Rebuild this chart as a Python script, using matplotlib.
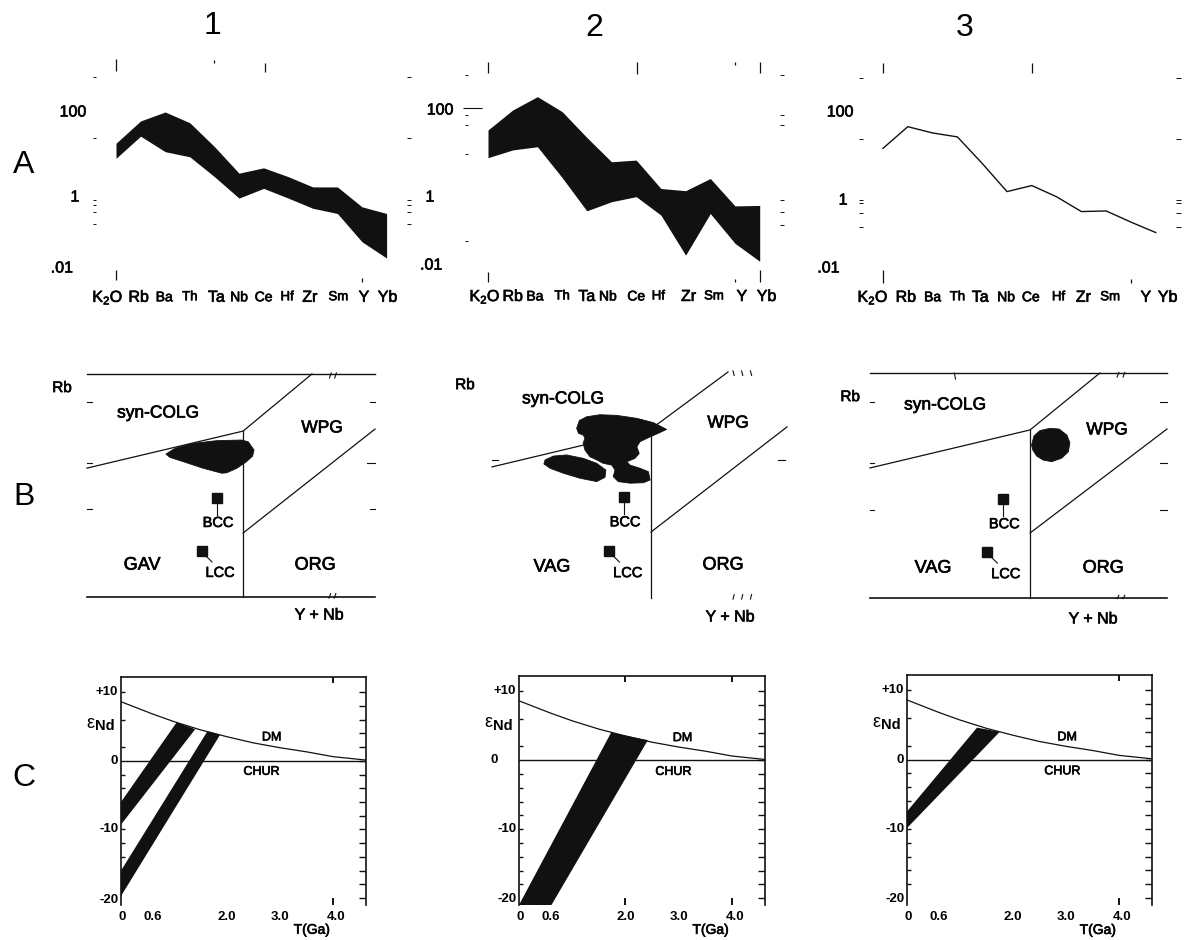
import numpy as np
import matplotlib
matplotlib.use('Agg')
from matplotlib import pyplot as plt
from matplotlib import transforms as mtransforms
from matplotlib import patheffects as pe
from matplotlib.patches import Polygon

W, H = 1187, 940
INK = '#111111'
HEAVY = [pe.withStroke(linewidth=0.5, foreground=INK)]

# ---------------- row A : spidergrams (normalised values) ----------------
elements = ['K$_2$O', 'Rb', 'Ba', 'Th', 'Ta', 'Nb', 'Ce', 'Hf', 'Zr', 'Sm', 'Y', 'Yb']
a1_upper = [15.8, 59, 100, 53, 13, 2.7, 3.7, 2.2, 1.2, 1.2, 0.37, 0.25]
a1_lower = [6.5, 24, 9.6, 7.1, 2.2, 0.62, 1.1, 0.62, 0.34, 0.25, 0.047, 0.018]
a2_upper = [31, 100, 219, 91, 20, 4.8, 5.3, 1.0, 0.88, 1.8, 0.36, 0.37]
a2_lower = [6.1, 9.6, 11.6, 1.9, 0.27, 0.46, 0.62, 0.21, 0.020, 0.23, 0.040, 0.014]
a3_line = [11.7, 42, 29, 23, 4.8, 0.91, 1.3, 0.67, 0.28, 0.29, 0.15, 0.081]

# ---------------- row B : Rb vs Y+Nb sketches (frame units 0-100) ----------------
b1_bounds = [[(0, 57.8), (54.2, 74.4), (78.1, 100)], [(54.2, 74.4), (54.2, 0)],
             [(54.2, 28.7), (100, 75.3)]]
b2_bounds = [[(0, 58.0), (53.9, 74.8), (80.0, 100)], [(53.9, 74.8), (53.9, 0)],
             [(53.9, 29.2), (100, 75.7)]]
b3_bounds = [[(0, 57.8), (53.9, 74.7), (77.4, 100)], [(53.9, 74.7), (53.9, 0)],
             [(53.9, 28.9), (100, 75.1)]]

b1_blobs = [[(27.4, 64.1), (30.6, 66.7), (36.9, 68.9), (45.0, 70.1), (53.7, 70.4), (56.0, 69.6),
             (58.0, 65.9), (57.5, 63.2), (55.4, 60.7), (52.0, 57.7), (48.5, 55.7), (46.8, 55.5),
             (40.4, 57.7), (33.4, 60.7), (28.8, 62.6)]]
b2_blobs = [[(28.7, 75.1), (29.6, 78.5), (32.1, 80.2), (36.6, 81.1), (42.3, 80.8), (49.1, 79.5),
             (54.7, 77.6), (59.2, 74.6), (56.4, 72.9), (53.3, 71.1), (50.2, 69.2), (49.1, 66.9),
             (49.9, 64.0), (48.5, 61.8), (45.7, 60.3), (46.8, 58.8), (50.2, 57.4), (53.0, 55.9),
             (53.6, 52.2), (51.3, 51.0), (46.8, 50.8), (42.8, 51.5), (41.1, 53.7), (41.7, 56.6),
             (40.6, 58.8), (37.7, 59.6), (35.5, 61.1), (33.2, 62.5), (31.5, 65.5), (30.9, 68.5),
             (31.5, 70.7), (30.9, 72.1), (29.3, 72.9)],
            [(18.0, 61.1), (20.8, 62.8), (25.3, 63.3), (30.9, 61.8), (35.5, 59.6), (38.6, 56.6),
             (38.3, 53.4), (35.5, 51.5), (29.8, 53.0), (24.2, 55.2), (19.7, 57.4), (17.6, 59.3)]]
b3_blobs = [[(54.4, 68.0), (55.2, 72.0), (57.2, 74.4), (60.6, 75.4), (63.7, 75.1), (66.3, 72.4),
             (67.3, 69.0), (66.8, 65.0), (64.5, 62.1), (61.2, 60.6), (58.3, 61.3), (56.1, 63.1),
             (54.8, 65.8)]]

b1_bcc, b1_lcc = (45.1, 44.4), (39.9, 20.6)
b2_bcc, b2_lcc = (44.7, 44.7), (39.7, 20.8)
b3_bcc, b3_lcc = (44.8, 44.0), (39.4, 20.4)

# ---------------- row C : eps Nd vs T(Ga) ----------------
dm_t = [0, 0.6, 1.0, 1.5, 2.0, 2.5, 3.0, 3.5, 4.0, 4.62]
dm_eps = [8.6, 6.8, 5.7, 4.5, 3.5, 2.6, 1.9, 1.3, 0.6, 0.1]
c1_bands = [[(0, -6.0), (1.05, 5.6), (1.40, 4.6), (0, -9.3)],
            [(0, -16.0), (1.63, 4.3), (1.87, 3.8), (0, -19.7)]]
c2_bands = [[(0, -21.0), (1.73, 4.0), (2.42, 2.9), (0.61, -21.0)]]
c3_bands = [[(0, -7.5), (1.32, 4.6), (1.75, 4.0), (0, -9.9)]]
t_labels = ['0', '0.6', '2.0', '3.0', '4.0']
t_pos = [0.03, 0.6, 2.0, 3.0, 4.05]

plt.rcParams['font.family'] = ['Liberation Sans', 'DejaVu Sans']
plt.rcParams['mathtext.fontset'] = 'custom'
plt.rcParams['mathtext.rm'] = 'Liberation Sans'
plt.rcParams['mathtext.it'] = 'Liberation Sans:italic'
plt.rcParams['mathtext.bf'] = 'Liberation Sans:bold'


def px_axes(fig, x0, y0, x1, y1):
    return fig.add_axes([x0 / W, 1 - y1 / H, (x1 - x0) / W, (y1 - y0) / H])


def spider(fig, kx, sp, y100, ppd, upper, lower, lab_dx, ylabs, lmarks, rmarks, tmarks, bmarks):
    ax = px_axes(fig, kx - 3 * sp, y100 - 1.5 * ppd, kx + 12.2 * sp, y100 + 4.6 * ppd)
    ax.set_xlim(-3, 12.2)
    ax.set_yscale('log')
    ax.set_ylim(10 ** -2.6, 10 ** 3.5)
    ax.axis('off')
    x = np.arange(len(elements))
    if lower is None:
        ax.plot(x, upper, color=INK, lw=1.0)
    else:
        ax.fill_between(x, lower, upper, color=INK, lw=0)
    sizes = [11.5, 11.5, 10, 9.5, 11.5, 10, 10, 9.5, 11.5, 9.5, 11.5, 11.5]
    for i, (name, s, dx) in enumerate(zip(elements, sizes, lab_dx)):
        ax.text(i + dx, 10 ** -2.75, name, ha='center', va='center', fontsize=s,
                clip_on=False, path_effects=HEAVY)
    for txt, xi, lv in ylabs:
        ax.text(xi, 10 ** lv, txt, ha='center', va='center', fontsize=11.5, path_effects=HEAVY)
    for lv in lmarks:
        ax.hlines(10 ** lv, -0.95, -0.8, color=INK, lw=0.7)
    for lv in rmarks:
        ax.hlines(10 ** lv, 11.82, 12.0, color=INK, lw=0.7)
    for xi, l0, l1 in tmarks + bmarks:
        ax.vlines(xi, 10 ** l0, 10 ** l1, color=INK, lw=0.9)
    return ax


def tect(fig, rect, bounds, frame, blobs, bcc, lcc, fields, marks):
    ax = px_axes(fig, *rect)
    ax.set_xlim(0, 100)
    ax.set_ylim(0, 100)
    ax.axis('off')
    if frame:
        ax.plot([0, 100], [100, 100], color=INK, lw=1.0, clip_on=False)
        ax.plot([0, 100], [0, 0], color=INK, lw=1.2, clip_on=False)
    for seg in bounds:
        xs, ys = zip(*seg)
        ax.plot(xs, ys, color=INK, lw=0.9, clip_on=False)
    for b in blobs:
        ax.add_patch(Polygon(b, closed=True, color=INK, lw=0.6, zorder=3))
    ax.plot(*bcc, 's', color=INK, ms=6.5, zorder=4)
    ax.plot(*lcc, 's', color=INK, ms=6.5, zorder=4)
    ax.plot([bcc[0], bcc[0]], [bcc[1] - 2.5, bcc[1] - 7.6], color=INK, lw=0.8)
    ax.plot([lcc[0] + 1.1, lcc[0] + 3.5], [lcc[1] - 1.8, lcc[1] - 4.9], color=INK, lw=0.8)
    ax.text(bcc[0] + 0.4, bcc[1] - 11.2, 'BCC', ha='center', va='center', fontsize=10.5,
            path_effects=HEAVY)
    ax.text(lcc[0] + 6.3, lcc[1] - 9.8, 'LCC', ha='center', va='center', fontsize=10.5,
            path_effects=HEAVY)
    for txt, u, v, s in fields:
        ax.text(u, v, txt, ha='center', va='center', fontsize=s, clip_on=False,
                path_effects=HEAVY)
    for seg in marks:
        xs, ys = zip(*seg)
        ax.plot(xs, ys, color=INK, lw=0.8, clip_on=False)
    return ax


def nd_panel(fig, rect, bands, tticks, zero_dx, dm_xy, chur_xy):
    ax = px_axes(fig, *rect)
    ax.set_xlim(0, 4.62)
    ax.set_ylim(-21, 12.2)
    ax.spines['bottom'].set_visible(False)
    for s in ['left', 'top', 'right']:
        ax.spines[s].set_linewidth(1.2)
        ax.spines[s].set_color(INK)
    ax.set_xticks([])
    ax.set_yticks([])
    ax.plot(dm_t, dm_eps, color=INK, lw=0.9)
    ax.axhline(0, color=INK, lw=1.0)
    for b in bands:
        ax.add_patch(Polygon(b, closed=True, color=INK, lw=0, zorder=3))
    ytr = ax.get_yaxis_transform()
    xtr = ax.get_xaxis_transform()
    ax.hlines(np.arange(-20, 11, 2), 0.972, 1.0, transform=ytr, color=INK, lw=1.0)
    ax.hlines([10, 6, 2, -2, -4, -6, -8, -10, -12, -14, -16, -18], 0.0, 0.017,
              transform=ytr, color=INK, lw=1.0)
    ax.vlines(tticks, 0.972, 1.0, transform=xtr, color=INK, lw=1.4)
    ax.vlines(tticks, 0.0, 0.03, transform=xtr, color=INK, lw=1.4)
    kw = dict(ha='right', va='center', fontsize=9.5, fontweight='bold', clip_on=False)
    ax.text(-0.05, 10, '+10', **kw)
    ax.text(-0.05 - zero_dx, 0, '0', **kw)
    ax.text(-0.05, -10, '-10', **kw)
    ax.text(-0.05, -20.2, '-20', **kw)
    ax.text(-0.12, 5.0, 'Nd', ha='right', va='center', fontsize=10.5, fontweight='bold')
    eps_tr = mtransforms.offset_copy(ax.transData, fig=fig, x=-14.5, y=2, units='points')
    ax.text(-0.12, 5.0, 'ε', ha='right', va='center', fontsize=13, transform=eps_tr)
    for lab, t in zip(t_labels, t_pos):
        ax.text(t, -22.7, lab, ha='center', va='center', fontsize=9.5, fontweight='bold', clip_on=False)
    ax.text(3.6, -24.6, 'T(Ga)', ha='center', va='center', fontsize=10, clip_on=False,
            path_effects=HEAVY)
    ax.text(dm_xy[0], dm_xy[1], 'DM', ha='center', va='center', fontsize=9, path_effects=HEAVY)
    ax.text(chur_xy[0], chur_xy[1], 'CHUR', ha='center', va='center', fontsize=9,
            path_effects=HEAVY)
    return ax


def main():
    fig = plt.figure(figsize=(W / 100, H / 100), dpi=100)

    for txt, x, y in [('1', 213, 26), ('2', 594, 28), ('3', 965, 28)]:
        fig.text(x / W, 1 - y / H, txt, ha='center', va='center', fontsize=23)
    for txt, y in [('A', 165), ('B', 497), ('C', 778)]:
        fig.text(24 / W, 1 - y / H, txt, ha='center', va='center', fontsize=23)

    # row A
    spider(fig, 116, 24.6, 112, 39, a1_upper, a1_lower,
           [-0.33, -0.08, -0.04, 0, 0.08, 0, 0, -0.04, -0.12, 0.04, 0.08, 0.04],
           [('100', -1.75, 2.0), ('1', -1.67, -0.18), ('.01', -2.2, -2.0)],
           [2.90, 1.33, -0.26, -0.38, -0.56, -0.87], [2.90, 1.33, -0.26, -0.38, -0.56, -0.87],
           [(0, 3.05, 3.36), (4, 3.26, 3.33), (6.06, 3.03, 3.26)],
           [(0, -2.31, -2.05), (10, -2.36, -2.26)])
    ax2 = spider(fig, 488, 24.7, 110, 39.25, a2_upper, a2_lower,
                 [-0.12, 0, -0.1, 0, 0, -0.15, 0, -0.1, 0.12, 0.15, 0.28, 0.28],
                 [('100', -1.94, 2.0), ('1', -2.35, -0.22), ('.01', -2.3, -1.95)],
                 [2.89, 1.87, 1.62, 0.88, -1.34], [2.89, 1.87, 1.62, -0.29, -0.60, -0.93],
                 [(0, 2.94, 3.22), (6.03, 2.92, 3.22), (10, 3.15, 3.22), (11, 2.94, 3.22)],
                 [(0, -2.38, -2.13), (10, -2.38, -2.31), (11, -2.38, -2.08)])
    ax2.hlines(10 ** 2.05, -1.0, -0.24, color=INK, lw=0.8)
    spider(fig, 883, 24.8, 112, 39, a3_line, None,
           [-0.4, -0.08, 0, 0, -0.08, -0.04, -0.04, 0.08, 0.08, 0.16, 0.6, 0.48],
           [('100', -1.73, 2.0), ('1', -1.61, -0.26), ('.01', -2.2, -2.0)],
           [2.87, 1.31, -0.26, -0.33, -0.59, -0.95], [2.87, 1.31, -0.26, -0.33, -0.59, -0.95],
           [(0, 3.0, 3.26), (6.0, 3.0, 3.26)],
           [(0, -2.38, -2.05), (10, -2.38, -2.28)])

    # row B
    tect(fig, (87, 374, 375, 597), b1_bounds, True, b1_blobs, b1_bcc, b1_lcc,
         [('Rb', -8.7, 93.7, 11), ('syn-COLG', 24.7, 82.5, 12.5), ('WPG', 81.6, 75.8, 12.5),
          ('GAV', 19.1, 14.3, 13), ('ORG', 79.2, 14.3, 13), ('Y + Nb', 80.6, -8.1, 11.5)],
         [[(0, 87.4), (1.7, 87.4)], [(0, 60.1), (1.7, 60.1)], [(0, 39.5), (1.7, 39.5)],
          [(98.3, 87.4), (100, 87.4)], [(97.2, 60.1), (100, 60.1)], [(98.3, 39.5), (100, 39.5)],
          [(84.2, 98.2), (84.8, 100.5)], [(86.0, 98.2), (86.6, 100.5)],
          [(84.0, -0.5), (84.6, 1.5)], [(85.8, -0.5), (86.4, 1.5)]])
    tect(fig, (492, 372, 787, 598), b2_bounds, False, b2_blobs, b2_bcc, b2_lcc,
         [('Rb', -9.2, 94.2, 11), ('syn-COLG', 24.1, 88.1, 12.5), ('WPG', 80.0, 77.4, 12.5),
          ('VAG', 20.3, 13.7, 13), ('ORG', 78.3, 14.6, 13), ('Y + Nb', 80.7, -8.4, 11.5)],
         [[(0, 61.1), (2, 61.1)], [(97, 61.1), (99.3, 61.1)],
          [(81.7, 100.5), (82.1, 98.5)], [(84.6, 100.5), (85.0, 98.5)], [(87.6, 100.5), (88.0, 98.5)],
          [(81.7, -0.5), (82.1, 1.5)], [(84.6, -0.5), (85.0, 1.5)], [(87.6, -0.5), (88.0, 1.5)]])
    tect(fig, (870, 373, 1167, 598), b3_bounds, True, b3_blobs, b3_bcc, b3_lcc,
         [('Rb', -6.7, 89.3, 11), ('syn-COLG', 25.3, 85.8, 12.5), ('WPG', 79.8, 74.7, 12.5),
          ('VAG', 21.2, 13.3, 13), ('ORG', 78.5, 13.3, 13), ('Y + Nb', 75.1, -9.3, 11.5)],
         [[(0, 87.1), (1.3, 87.1)], [(0, 60.0), (1.3, 60.0)], [(0, 39.1), (1.3, 39.1)],
          [(97.6, 87.1), (100, 87.1)], [(97.6, 60.0), (100, 60.0)], [(97.6, 39.1), (100, 39.1)],
          [(28.4, 100), (28.8, 97.3)],
          [(83.2, 98.2), (83.8, 100.3)], [(85.2, 98.2), (85.8, 100.3)],
          [(83.2, -0.3), (83.8, 1.2)], [(85.2, -0.3), (85.8, 1.2)]])

    # row C
    nd_panel(fig, (121, 677, 366, 905), c1_bands, [4.0], 0.0, (2.84, 3.4), (2.65, -1.6))
    nd_panel(fig, (519, 676, 765, 905), c2_bands, [2.0, 4.0], 0.35, (3.07, 3.2), (2.9, -1.7))
    nd_panel(fig, (907, 675, 1152, 905), c3_bands, [4.0], 0.0, (3.02, 3.2), (2.93, -1.7))

    fig.savefig('out.png', dpi=100, facecolor='white')


if __name__ == "__main__":
    main()
